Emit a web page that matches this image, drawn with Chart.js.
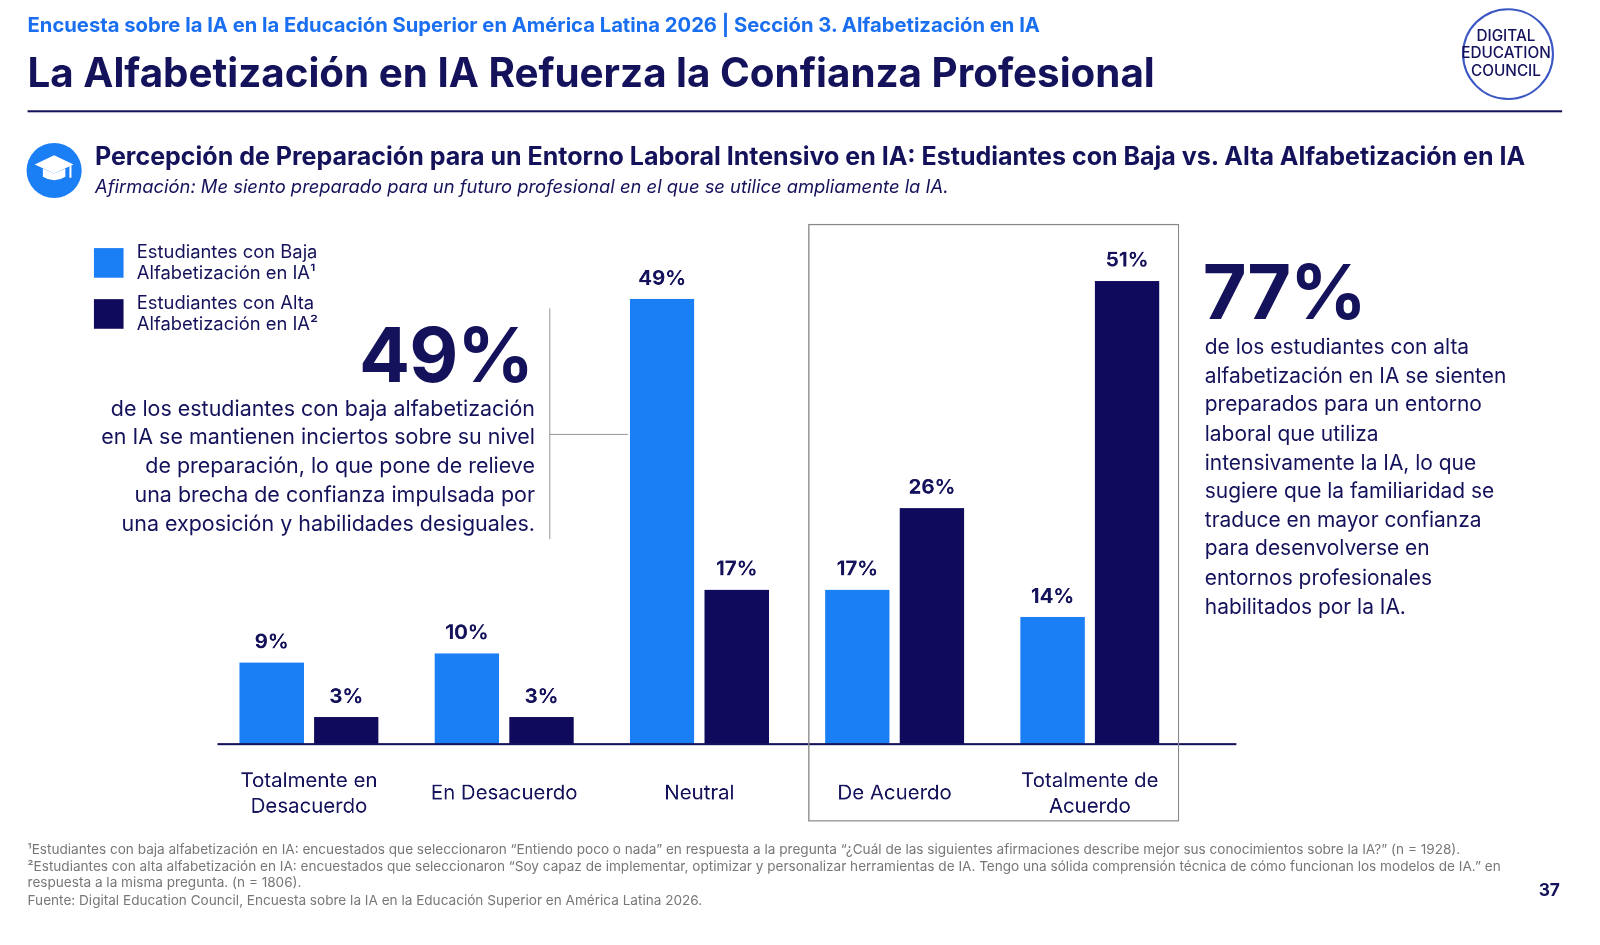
<!DOCTYPE html>
<html><head><meta charset="utf-8">
<script src="https://cdn.jsdelivr.net/npm/chart.js@4"></script>
<style>
body{margin:0;width:1600px;height:945px;background:#fff;font-family:Inter,"Noto Sans",sans-serif;color:#14125a;overflow:hidden}
#wrap{position:absolute;left:0;top:0;width:1600px;height:945px;transform:scale(1.021);transform-origin:0 0}
.a{position:absolute;white-space:nowrap}
canvas{position:absolute;left:0;top:0}
</style></head><body><div id="wrap">
<div class="a" style="left:27px;top:12px;font-size:19.8px;font-weight:700;color:#1a6ff0">Encuesta sobre la IA en la Educación Superior en América Latina 2026 | Sección 3. Alfabetización en IA</div>
<div class="a" style="left:27px;top:47px;font-size:39.5px;font-weight:700">La Alfabetización en IA Refuerza la Confianza Profesional</div>
<div class="a" style="left:27px;top:108px;width:1503px;height:2px;background:#14125a"></div>
<div class="a" style="left:1432px;top:8px;width:86px;height:86px;border-radius:50%;border:2px solid #3b57c4;"></div>
<div class="a" style="left:1427px;top:26px;width:96px;text-align:center;font-size:15px;line-height:17px;font-weight:500;color:#14125a">DIGITAL<br>EDUCATION<br>COUNCIL</div>
<div class="a" style="left:26px;top:140px;width:54px;height:54px;border-radius:50%;background:#1a7ef5"></div>
<svg class="a" style="left:32px;top:150px" width="42" height="34"><polygon points="21,2 40,11 21,20 2,11" fill="#fff"/><path d="M10,15 v8 q11,7 22,0 v-8 l-11,5z" fill="#fff"/><line x1="37" y1="12" x2="37" y2="24" stroke="#fff" stroke-width="2"/></svg>
<div class="a" style="left:93px;top:138px;font-size:24.5px;font-weight:700">Percepción de Preparación para un Entorno Laboral Intensivo en IA: Estudiantes con Baja vs. Alta Alfabetización en IA</div>
<div class="a" style="left:93px;top:172px;font-size:18px;font-style:italic">Afirmación: Me siento preparado para un futuro profesional en el que se utilice ampliamente la IA.</div>

<div class="a" style="left:92px;top:243px;width:29px;height:29px;background:#1a7ef5"></div>
<div class="a" style="left:134px;top:237px;font-size:18px;line-height:20px">Estudiantes con Baja<br>Alfabetización en IA¹</div>
<div class="a" style="left:92px;top:293px;width:29px;height:29px;background:#100a5c"></div>
<div class="a" style="left:134px;top:287px;font-size:18px;line-height:20px">Estudiantes con Alta<br>Alfabetización en IA²</div>

<div class="a" style="right:1078px;top:302px;font-size:74px;font-weight:700;letter-spacing:-1px">49%</div>
<div class="a" style="right:1076px;top:386px;font-size:21px;line-height:28.2px;text-align:right">de los estudiantes con baja alfabetización<br>en IA se mantienen inciertos sobre su nivel<br>de preparación, lo que pone de relieve<br>una brecha de confianza impulsada por<br>una exposición y habilidades desiguales.</div>
<div class="a" style="left:538px;top:302px;width:1px;height:226px;background:#999"></div>
<div class="a" style="left:538px;top:425px;width:77px;height:1px;background:#999"></div>

<div class="a" style="left:1178px;top:240px;font-size:74px;font-weight:700;letter-spacing:-1px">77%</div>
<div class="a" style="left:1180px;top:326px;font-size:20.5px;line-height:28.2px">de los estudiantes con alta<br>alfabetización en IA se sienten<br>preparados para un entorno<br>laboral que utiliza<br>intensivamente la IA, lo que<br>sugiere que la familiaridad se<br>traduce en mayor confianza<br>para desenvolverse en<br>entornos profesionales<br>habilitados por la IA.</div>

<div class="a" style="left:27px;top:823px;font-size:13.3px;line-height:16.5px;color:#777">¹Estudiantes con baja alfabetización en IA: encuestados que seleccionaron “Entiendo poco o nada” en respuesta a la pregunta “¿Cuál de las siguientes afirmaciones describe mejor sus conocimientos sobre la IA?” (n = 1928).<br>²Estudiantes con alta alfabetización en IA: encuestados que seleccionaron “Soy capaz de implementar, optimizar y personalizar herramientas de IA. Tengo una sólida comprensión técnica de cómo funcionan los modelos de IA.” en<br>respuesta a la misma pregunta. (n = 1806).<br>Fuente: Digital Education Council, Encuesta sobre la IA en la Educación Superior en América Latina 2026.</div>
<div class="a" style="left:1507px;top:862px;font-size:17px;font-weight:700">37</div>
<canvas id="c" width="1600" height="945"></canvas>
</div>
<script>
const categories = [["Totalmente en","Desacuerdo"],["En Desacuerdo"],["Neutral"],["De Acuerdo"],["Totalmente de","Acuerdo"]];
const lowLiteracy = [9, 10, 49, 17, 14];
const highLiteracy = [3, 3, 17, 26, 51];

const overlay = {
  id: 'overlay',
  afterDatasetsDraw(chart) {
    const ctx = chart.ctx, x = chart.scales.x, y = chart.scales.y;
    ctx.save();
    ctx.strokeStyle = '#14125a'; ctx.lineWidth = 2;
    ctx.beginPath(); ctx.moveTo(213, y.getPixelForValue(0)); ctx.lineTo(1211, y.getPixelForValue(0)); ctx.stroke();
    const bl = x.getPixelForValue(3) - 84, br = x.getPixelForValue(4) + 87;
    ctx.strokeStyle = '#888'; ctx.lineWidth = 1.2;
    ctx.strokeRect(bl, 220, br - bl, 584);
    ctx.fillStyle = '#14125a'; ctx.textAlign = 'center';
    ctx.font = '700 20px Inter, sans-serif';
    chart.data.datasets.forEach((ds, i) => {
      chart.getDatasetMeta(i).data.forEach((bar, j) => {
        ctx.fillText(ds.data[j] + '%', bar.x, bar.y - 14);
      });
    });
    ctx.font = '20px Inter, sans-serif';
    categories.forEach((lines, j) => {
      const cx = x.getPixelForValue(j);
      if (lines.length === 1) ctx.fillText(lines[0], cx, 783);
      else { ctx.fillText(lines[0], cx, 771); ctx.fillText(lines[1], cx, 796); }
    });
    ctx.restore();
  }
};

new Chart(document.getElementById('c'), {
  type: 'bar',
  data: {
    labels: categories.map(l => l.join(' ')),
    datasets: [
      {label: 'Baja', data: lowLiteracy, backgroundColor: '#1a7ef5', categoryPercentage: 0.764, barPercentage: 0.863},
      {label: 'Alta', data: highLiteracy, backgroundColor: '#100a5c', categoryPercentage: 0.764, barPercentage: 0.863}
    ]
  },
  options: {
    responsive: false, animation: false, devicePixelRatio: 2,
    layout: {padding: {left: 207, right: 437, top: 195, bottom: 216}},
    plugins: {legend: {display: false}, tooltip: {enabled: false}},
    scales: {
      x: {display: false},
      y: {display: false, min: 0, max: 60}
    }
  },
  plugins: [overlay]
});
</script>
</body></html>
